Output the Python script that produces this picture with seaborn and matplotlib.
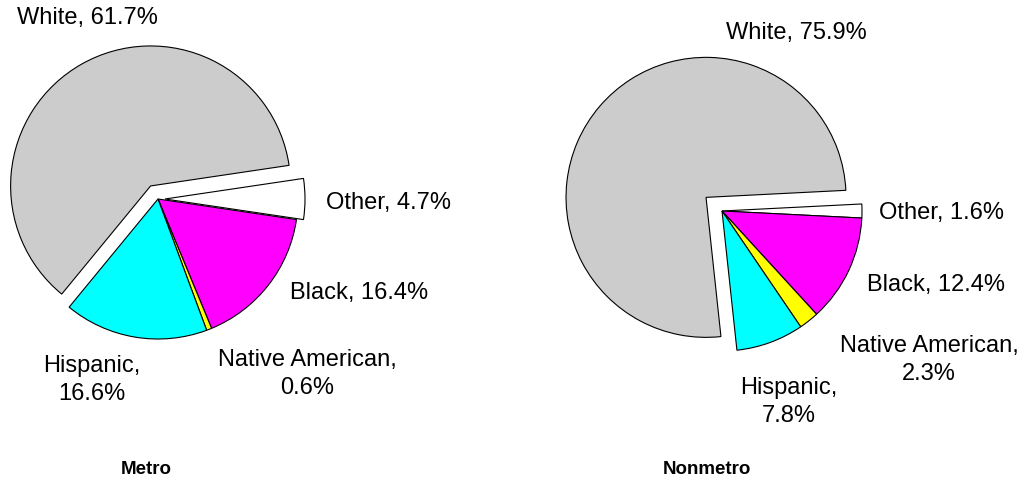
import matplotlib
matplotlib.use("Agg")
import matplotlib.pyplot as plt
import seaborn as sns

# ---- data ----
categories = ["Other", "Black", "Native American", "Hispanic", "White"]
metro_values = [4.7, 16.4, 0.6, 16.6, 61.7]
nonmetro_values = [1.6, 12.4, 2.3, 7.8, 75.9]
panel_titles = ["Metro", "Nonmetro"]

colors = ["#FFFFFF", "#FF00FF", "#FFFF00", "#00FFFF", "#CCCCCC"]

sns.set_theme(style="white")
plt.rcParams["font.family"] = ["Liberation Sans", "DejaVu Sans"]

fig = plt.figure(figsize=(10.21, 4.8), dpi=100)
ax = fig.add_axes([0, 0, 1, 1])

H = 480
R = 140

def draw(values, center, explode, labels_pos, title_pos, title):
    start = values[0] / 100 * 180  # centre "Other" slice on 3 o'clock
    ax.pie(values, colors=colors, startangle=start, counterclock=False,
           radius=R, center=center, explode=explode,
           wedgeprops=dict(edgecolor="black", linewidth=0.8),
           frame=False)
    for cat, v, (x, y) in zip(categories, values, labels_pos):
        if cat in ("Native American", "Hispanic"):
            txt = f"{cat},\n{v}%"
        else:
            txt = f"{cat}, {v}%"
        ax.text(x, H - y, txt, ha="center", va="center", fontsize=17,
                linespacing=1.35, color="black")
    ax.text(title_pos[0], H - title_pos[1], title, ha="center", va="center",
            fontsize=13.5, fontweight="bold", color="black")

draw(metro_values, (158, H - 199), [7, 0, 0, 0, 15],
     [(388, 203), (359, 293), (307, 374), (92, 380), (87, 18)],
     (146, 470), panel_titles[0])
draw(nonmetro_values, (722, H - 211), [0, 0, 0, 0, 21],
     [(941, 213), (936, 285), (929, 360), (789, 402), (796, 33)],
     (707, 470), panel_titles[1])

ax.set_xlim(0, 1021)
ax.set_ylim(0, H)
ax.set_aspect("equal")
ax.axis("off")

fig.savefig("out.png", dpi=100, facecolor="white")
